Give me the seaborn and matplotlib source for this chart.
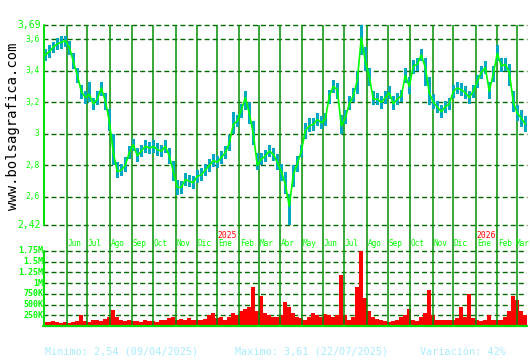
import numpy as np
import pandas as pd
import matplotlib
matplotlib.use("Agg")
import matplotlib.pyplot as plt
import seaborn as sns
from matplotlib.transforms import blended_transform_factory as btf

# ---------------- data (sampled every 4 trading days) ----------------
close = [3.50,3.52,3.55,3.57,3.58,3.59,3.55,3.46,3.37,3.27,
         3.23,3.25,3.19,3.22,3.29,3.21,3.08,2.88,2.76,2.77,
         2.80,2.88,2.93,2.86,2.89,2.92,2.91,2.92,2.90,2.89,
         2.92,2.86,2.76,2.66,2.66,2.71,2.70,2.69,2.73,2.74,
         2.77,2.80,2.83,2.82,2.85,2.88,2.94,3.06,3.08,3.15,
         3.23,3.13,3.00,2.80,2.84,2.86,2.89,2.87,2.82,2.76,
         2.68,2.54,2.74,2.81,2.89,3.02,3.05,3.06,3.09,3.07,
         3.09,3.24,3.30,3.28,3.05,3.10,3.19,3.24,3.34,3.61,
         3.46,3.36,3.22,3.22,3.20,3.23,3.26,3.19,3.22,3.24,
         3.37,3.30,3.43,3.44,3.50,3.42,3.26,3.20,3.17,3.14,
         3.17,3.19,3.27,3.29,3.28,3.26,3.23,3.27,3.33,3.39,
         3.42,3.27,3.38,3.51,3.43,3.44,3.39,3.20,3.13,3.10,
         3.06]
high = [3.54,3.56,3.58,3.61,3.62,3.62,3.59,3.51,3.42,3.31,
        3.27,3.33,3.23,3.27,3.33,3.26,3.16,3.00,2.82,2.81,
        2.85,2.92,2.97,2.91,2.93,2.96,2.95,2.96,2.94,2.93,
        2.96,2.91,2.83,2.71,2.70,2.75,2.74,2.73,2.77,2.78,
        2.81,2.84,2.87,2.86,2.89,2.92,2.99,3.14,3.12,3.19,
        3.27,3.20,3.08,2.88,2.88,2.90,2.93,2.91,2.87,2.81,
        2.76,2.62,2.80,2.86,2.93,3.07,3.10,3.10,3.13,3.11,
        3.13,3.28,3.34,3.32,3.12,3.15,3.24,3.29,3.40,3.69,
        3.55,3.42,3.27,3.26,3.24,3.27,3.30,3.24,3.26,3.28,
        3.42,3.36,3.47,3.48,3.54,3.48,3.36,3.25,3.21,3.18,
        3.21,3.23,3.31,3.33,3.32,3.30,3.27,3.31,3.37,3.43,
        3.46,3.33,3.43,3.56,3.48,3.48,3.44,3.27,3.18,3.15,
        3.11]
low = [3.46,3.48,3.51,3.53,3.54,3.55,3.50,3.41,3.32,3.22,
       3.19,3.20,3.15,3.18,3.24,3.15,3.02,2.80,2.72,2.73,
       2.76,2.84,2.89,2.82,2.85,2.88,2.87,2.88,2.86,2.85,
       2.88,2.81,2.70,2.61,2.62,2.67,2.66,2.65,2.69,2.70,
       2.73,2.76,2.79,2.78,2.81,2.84,2.89,3.00,3.04,3.10,
       3.15,3.06,2.93,2.77,2.80,2.82,2.85,2.83,2.77,2.70,
       2.62,2.42,2.66,2.76,2.85,2.97,3.01,3.02,3.05,3.03,
       3.05,3.19,3.26,3.22,3.00,3.06,3.15,3.20,3.25,3.50,
       3.40,3.30,3.18,3.18,3.16,3.19,3.22,3.15,3.18,3.20,
       3.32,3.25,3.38,3.40,3.46,3.30,3.18,3.16,3.13,3.10,
       3.13,3.15,3.23,3.25,3.24,3.22,3.19,3.23,3.29,3.35,
       3.38,3.22,3.33,3.46,3.39,3.40,3.30,3.14,3.08,3.04,
       3.01]
volume_k = [100,90,110,100,80,90,70,100,120,250,
            110,100,130,150,120,170,200,380,220,150,
            120,130,110,120,100,130,110,120,100,130,
            140,180,200,150,170,140,190,130,150,140,
            160,250,300,180,200,150,220,300,250,350,
            400,450,900,350,700,300,250,220,200,250,
            550,450,300,200,180,150,220,300,250,200,
            280,250,200,250,1200,250,150,200,900,1750,
            650,350,200,170,150,120,100,110,130,200,
            250,400,150,120,200,300,850,250,130,130,
            140,130,130,180,450,200,750,180,130,120,
            140,250,130,150,140,200,350,700,600,350,
            250]

price_ticks = [3.69, 3.6, 3.4, 3.2, 3.0, 2.8, 2.6, 2.42]
price_labels = ["3,69", "3,6", "3,4", "3,2", "3", "2,8", "2,6", "2,42"]
vol_ticks = [250e3, 500e3, 750e3, 1e6, 1.25e6, 1.5e6, 1.75e6]
vol_labels = ["250K", "500K", "750K", "1M", "1.25M", "1.5M", "1.75M"]
month_names = ["Ene", "Feb", "Mar", "Abr", "May", "Jun",
               "Jul", "Ago", "Sep", "Oct", "Nov", "Dic"]
holidays = ["2024-05-01", "2024-12-25", "2024-12-26", "2025-01-01",
            "2025-05-01", "2026-01-01"]
footer = ["Minimo: 2,54 (09/04/2025)", "Maximo: 3,61 (22/07/2025)",
          "Variación: 42%"]

# ---------------- trading calendar ----------------
days = pd.bdate_range("2024-05-02", "2026-03-31", freq="C", holidays=holidays)
step = 4
n_days = step * (len(close) - 1) + 1
days = days[:n_days]
day_idx = np.arange(n_days)
xs = day_idx[::step][:len(close)]
df = pd.DataFrame({"x": xs, "close": close, "high": high, "low": low,
                   "vol": np.array(volume_k) * 1000.0})

per = days.to_period("M")
mstarts = np.flatnonzero(per[1:] != per[:-1]) + 1

# ---------------- style ----------------
sns.set_theme(style="white")
plt.rcParams["font.family"] = ["DejaVu Sans Mono", "DejaVu Sans"]
plt.rcParams["lines.scale_dashes"] = False

W, H = 530, 360
fig = plt.figure(figsize=(W / 100, H / 100), dpi=100)
fig.patch.set_facecolor("white")

x_left_px, x_right_px = 43.3, 527.0
ax_w = (x_right_px - x_left_px) / W
ax_p = fig.add_axes([x_left_px / W, (H - 238) / H, ax_w, 213 / H])
ax_v = fig.add_axes([x_left_px / W, (H - 326) / H, ax_w, 88 / H])

XMIN, XMAX = -2, n_days - 1 + 1.7
P_LO, P_HI = 2.339, 3.69
V_HI = 2.053e6
px_per_day = (x_right_px - x_left_px) / (XMAX - XMIN)

GRID_H = "#006a00"
GRID_V = "#009000"
LIME = "#00ff00"
AXIS_G = "#00e000"
TEAL = "#00a8c4"
dash = (0, (3.6, 2.2))

for ax in (ax_p, ax_v):
    ax.set_facecolor("white")
    for s in ax.spines.values():
        s.set_visible(False)

# price panel
for t in price_ticks:
    ax_p.axhline(t, color=GRID_H, lw=1.0, ls=dash, zorder=1, clip_on=False)
for m in mstarts:
    ax_p.axvline(m, color=GRID_V, lw=1.1, zorder=2)
ax_p.bar(df["x"], df["high"] - df["low"], bottom=df["low"], width=3.0,
         color=TEAL, linewidth=0, zorder=3)
sns.lineplot(data=df, x="x", y="close", ax=ax_p, color=LIME, lw=1.2,
             zorder=4, estimator=None)
ax_p.axvline(XMIN + 0.6, ymin=(2.42 - P_LO) / (P_HI - P_LO), ymax=1,
             color=AXIS_G, lw=1.4, zorder=5, clip_on=False)
ax_p.set_xlim(XMIN, XMAX)
ax_p.set_ylim(P_LO, P_HI)

# volume panel
for t in vol_ticks:
    ax_v.axhline(t, color=GRID_H, lw=1.0, ls=dash, zorder=1)
sns.histplot(data=df, x="x", weights="vol", binwidth=step,
             binrange=(xs[0] - step / 2, xs[-1] + step / 2), ax=ax_v,
             color="#ff0000", alpha=1.0, linewidth=0, zorder=2)
for m in mstarts:
    ax_v.axvline(m, color=GRID_V, lw=1.1, zorder=3)
ax_v.axvline(XMIN + 0.6, ymin=0, ymax=1.75e6 / V_HI, color=AXIS_G, lw=1.4,
             zorder=5, clip_on=False)
ax_v.axhline(0, color=AXIS_G, lw=1.6, zorder=5, clip_on=False)
ax_v.set_xlim(XMIN, XMAX)
ax_v.set_ylim(0, V_HI)

for ax in (ax_p, ax_v):
    ax.set_xticks([])
    ax.set_yticks([])
    ax.set_xlabel("")
    ax.set_ylabel("")

# price tick labels
tr_p = btf(fig.transFigure, ax_p.transData)
for t, lab in zip(price_ticks, price_labels):
    big = lab in ("3,69", "2,42")
    fig.text((40.5 if big else 39.5) / W, t, lab, transform=tr_p,
             ha="right", va="center", color=LIME,
             fontsize=7.0 if big else 5.7)

# volume tick labels
tr_v = btf(fig.transFigure, ax_v.transData)
for t, lab in zip(vol_ticks, vol_labels):
    fig.text(43.0 / W, t, lab, transform=tr_v, ha="right", va="center",
             color=LIME, fontsize=6.0, fontweight="bold")

# month / year labels
for m in mstarts:
    d = days[m]
    px = x_left_px + (m + 0.5 - XMIN) * px_per_day
    lab_w = 14.5
    if px + lab_w > W - 0.5:
        xf, ha = (W - 0.5) / W, "right"
    else:
        xf, ha = px / W, "left"
    fig.text(xf, (H - 244) / H, month_names[d.month - 1],
             ha=ha, va="center", color=LIME, fontsize=5.6)
    if d.month == 1:
        fig.text((px - 0.2) / W, (H - 236) / H, str(d.year),
                 ha="left", va="center", color="#ff0000", fontsize=5.8)

# watermark
fig.text(13.5 / W, (H - 126.5) / H, "www.bolsagrafica.com", rotation=90,
         ha="center", va="center", color="#000000", fontsize=10)

# footer
for xpx, txt in zip([45, 235, 420], footer):
    fig.text(xpx / W, (H - 352) / H, txt, ha="left", va="center",
             color="#a8ecff", fontsize=7.3)

fig.savefig("out.png", dpi=100, facecolor="white")
